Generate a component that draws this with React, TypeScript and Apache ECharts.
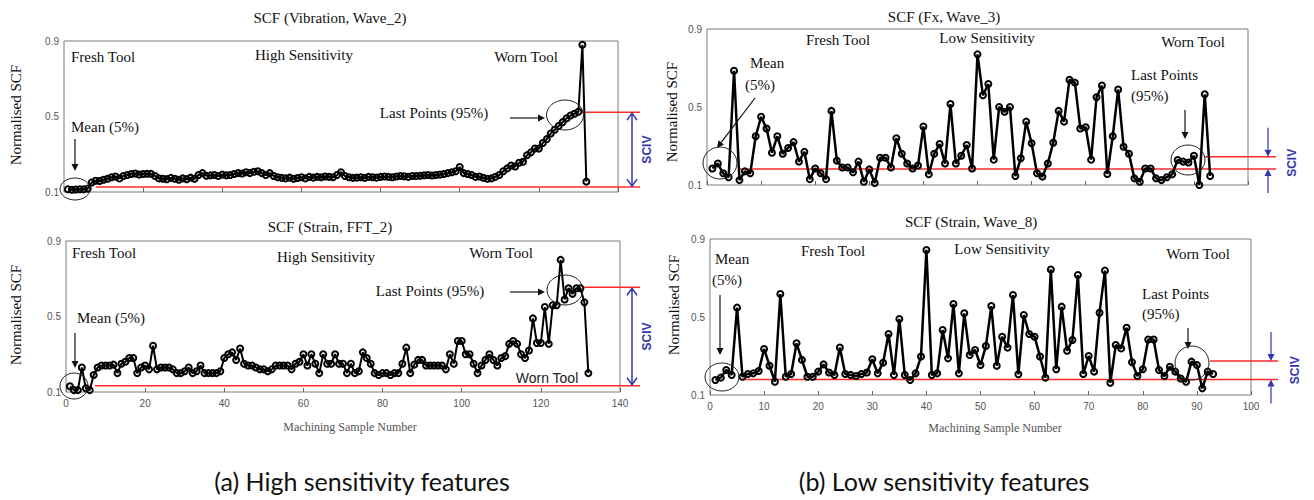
import React, { useEffect, useRef } from "react";
import * as echarts from "echarts";

// ---------- data ----------
const vibrationWave2 = [
  0.115, 0.112, 0.113, 0.115, 0.114, 0.118,
  0.15, 0.16, 0.158, 0.165, 0.17,
  0.178, 0.182, 0.172, 0.185, 0.19,
  0.195, 0.198, 0.192, 0.195, 0.197, 0.196,
  0.185, 0.172, 0.17, 0.168, 0.175, 0.17, 0.165, 0.172, 0.168, 0.176, 0.17,
  0.19, 0.2, 0.186, 0.188, 0.19, 0.185, 0.192, 0.188, 0.19, 0.195,
  0.2, 0.198, 0.205, 0.2, 0.207, 0.21, 0.2, 0.19, 0.2,
  0.185, 0.178, 0.175, 0.172, 0.176, 0.17, 0.174, 0.178, 0.172, 0.18,
  0.176, 0.18, 0.178, 0.182, 0.18, 0.178, 0.19, 0.205,
  0.185, 0.178, 0.175, 0.176, 0.178, 0.175, 0.18, 0.178, 0.176, 0.18,
  0.182, 0.18, 0.178, 0.182, 0.185, 0.183, 0.18, 0.185, 0.184, 0.186,
  0.188, 0.19, 0.187, 0.19, 0.192, 0.195, 0.2, 0.205, 0.21, 0.232,
  0.2, 0.195, 0.19, 0.18, 0.182, 0.175, 0.17, 0.172, 0.18, 0.19,
  0.21, 0.225, 0.24, 0.235, 0.255, 0.26, 0.295, 0.31, 0.33, 0.33,
  0.36, 0.38, 0.41, 0.43, 0.45, 0.47, 0.49, 0.505, 0.515, 0.525,
  0.88, 0.155,
];

const strainFFT2 = [
  0.13, 0.11, 0.11, 0.23, 0.12, 0.11, 0.19, 0.23, 0.24, 0.24,
  0.24, 0.245, 0.2, 0.25, 0.26, 0.28, 0.28, 0.2, 0.23, 0.24,
  0.22, 0.345, 0.22, 0.23, 0.23, 0.23, 0.22, 0.2, 0.2, 0.21,
  0.23, 0.2, 0.21, 0.24, 0.2, 0.2, 0.2, 0.2, 0.21, 0.28,
  0.3, 0.31, 0.27, 0.33, 0.25, 0.24, 0.24, 0.23, 0.22, 0.22,
  0.21, 0.22, 0.24, 0.24, 0.24, 0.24, 0.22, 0.25, 0.26, 0.3,
  0.24, 0.3, 0.25, 0.2, 0.3, 0.25, 0.25, 0.3, 0.25, 0.25,
  0.2, 0.25, 0.2, 0.21, 0.31, 0.28, 0.25, 0.2, 0.19, 0.2,
  0.2, 0.19, 0.2, 0.2, 0.25, 0.335, 0.2, 0.245, 0.27, 0.27,
  0.24, 0.24, 0.24, 0.24, 0.24, 0.22, 0.3, 0.25, 0.37, 0.37,
  0.3, 0.3, 0.25, 0.2, 0.24, 0.27, 0.3, 0.27, 0.24, 0.28,
  0.29, 0.355, 0.37, 0.355, 0.3, 0.28, 0.32, 0.49, 0.36, 0.36,
  0.55, 0.355, 0.56, 0.56, 0.8, 0.59, 0.65, 0.62, 0.65, 0.65,
  0.575, 0.2,
];

const fxWave3 = [
  0.185, 0.21, 0.16, 0.14, 0.686, 0.125, 0.17, 0.16, 0.35, 0.45,
  0.39, 0.265, 0.35, 0.26, 0.29, 0.32, 0.22, 0.27, 0.13, 0.185,
  0.16, 0.13, 0.48, 0.225, 0.19, 0.19, 0.165, 0.22, 0.117, 0.18,
  0.11, 0.24, 0.24, 0.19, 0.34, 0.26, 0.21, 0.185, 0.2, 0.4,
  0.155, 0.26, 0.31, 0.21, 0.515, 0.21, 0.25, 0.305, 0.185, 0.77,
  0.56, 0.618, 0.23, 0.5, 0.476, 0.5, 0.146, 0.237, 0.425, 0.314,
  0.16, 0.143, 0.21, 0.317, 0.48, 0.425, 0.64, 0.625, 0.39, 0.396,
  0.23, 0.55, 0.61, 0.156, 0.35, 0.59, 0.296, 0.26, 0.134, 0.117,
  0.185, 0.185, 0.134, 0.125, 0.14, 0.155, 0.228, 0.22, 0.215, 0.25,
  0.1, 0.565, 0.146,
];

const strainWave8 = [
  0.177, 0.189, 0.228, 0.203, 0.548, 0.194, 0.208, 0.211, 0.223, 0.336,
  0.25, 0.168, 0.618, 0.194, 0.208, 0.365, 0.28, 0.194, 0.194, 0.22,
  0.257, 0.215, 0.203, 0.344, 0.208, 0.203, 0.197, 0.208, 0.215, 0.283,
  0.211, 0.266, 0.413, 0.203, 0.49, 0.203, 0.177, 0.211, 0.297, 0.844,
  0.203, 0.211, 0.433, 0.288, 0.567, 0.211, 0.519, 0.305, 0.331, 0.254,
  0.351, 0.556, 0.25, 0.399, 0.343, 0.613, 0.206, 0.51, 0.413, 0.399,
  0.297, 0.189, 0.744, 0.232, 0.553, 0.327, 0.382, 0.715, 0.208, 0.3,
  0.22, 0.522, 0.738, 0.163, 0.356, 0.339, 0.445, 0.268, 0.197, 0.232,
  0.385, 0.385, 0.228, 0.197, 0.245, 0.22, 0.185, 0.168, 0.271, 0.254,
  0.134, 0.22, 0.208,
];

const yTickValues = [0.1, 0.5, 0.9];
const highXMax = 140;
const highXStep = 20;
const lowXMax = 100;
const lowXStep = 10;

// mean of first 5% (lower red line) and of last points (upper red line)
const meanLevels = [0.126, 0.133, 0.182, 0.18];
const lastLevels = [0.523, 0.655, 0.245, 0.274];
const meanStartSample = [8, 7.3, 5.7, 6];
const lastStartSample = [130.7, 130.7, 92, 92.4];

const panelTitles = [
  "SCF (Vibration, Wave_2)",
  "SCF (Strain, FFT_2)",
  "SCF (Fx, Wave_3)",
  "SCF (Strain, Wave_8)",
];

// ---------- layout ----------
const panels = [
  { grid: { left: 64, top: 41, width: 554, height: 151 }, values: vibrationWave2, xMax: highXMax, xStep: highXStep, showX: false, lineEnd: 640, high: true },
  { grid: { left: 66, top: 241, width: 554, height: 151 }, values: strainFFT2, xMax: highXMax, xStep: highXStep, showX: true, lineEnd: 640, high: true },
  { grid: { left: 707, top: 29, width: 541, height: 156 }, values: fxWave3, xMax: lowXMax, xStep: lowXStep, showX: false, lineEnd: 1276, high: false },
  { grid: { left: 710, top: 239, width: 541, height: 156 }, values: strainWave8, xMax: lowXMax, xStep: lowXStep, showX: true, lineEnd: 1278, high: false },
];

const SERIF = '"Liberation Serif", "Times New Roman", serif';
const SANS = '"Liberation Sans", Arial, sans-serif';
const BLUE = "#3535b0";
const RED = "#ff2a2a";

function txt(text: string, x: number, y: number, size: number, opts: any = {}) {
  return {
    type: "text",
    x,
    y,
    rotation: opts.rotation || 0,
    z: 10,
    style: {
      text,
      font: `${opts.weight || "normal"} ${size}px ${opts.family || SERIF}`,
      fill: opts.color || "#111",
      textAlign: opts.align || "center",
      textVerticalAlign: "middle",
    },
  };
}

function arrow(x1: number, y1: number, x2: number, y2: number, color: string, lw: number, hl: number, hw: number) {
  const a = Math.atan2(y2 - y1, x2 - x1);
  const c = Math.cos(a);
  const s = Math.sin(a);
  const bx = x2 - hl * c;
  const by = y2 - hl * s;
  return [
    { type: "line", z: 10, shape: { x1, y1, x2: bx, y2: by }, style: { stroke: color, lineWidth: lw } },
    {
      type: "polygon",
      z: 10,
      shape: { points: [[x2, y2], [bx + hw * s, by - hw * c], [bx - hw * s, by + hw * c]] },
      style: { fill: color },
    },
  ];
}

function ellipse(cx: number, cy: number, rx: number, ry: number) {
  return { type: "ellipse", z: 10, shape: { cx, cy, rx, ry }, style: { fill: "none", stroke: "#222", lineWidth: 1 } };
}

function hline(x1: number, x2: number, y: number) {
  return { type: "line", z: 1, shape: { x1, y1: y, x2, y2: y }, style: { stroke: RED, lineWidth: 1.5 } };
}

export default function App() {
  const ref = useRef<HTMLDivElement>(null);

  useEffect(() => {
    document.body.style.margin = "0";
    const chart = echarts.init(ref.current!, null, { renderer: "svg" });

    const option: any = {
      animation: false,
      backgroundColor: "#ffffff",
      grid: panels.map((p) => ({
        ...p.grid,
        show: true,
        borderColor: "#7a7a7a",
        borderWidth: 1,
        backgroundColor: "transparent",
      })),
      xAxis: panels.map((p, i) => ({
        gridIndex: i,
        type: "value",
        min: 0,
        max: p.xMax,
        interval: p.xStep,
        axisLine: { show: false },
        axisTick: { show: true, inside: true, length: 4, lineStyle: { color: "#666" } },
        splitLine: { show: false },
        axisLabel: { show: p.showX, margin: 6, color: "#555", fontSize: 10, fontFamily: SANS },
      })),
      yAxis: panels.map((p, i) => ({
        gridIndex: i,
        type: "value",
        min: 0.1,
        max: 0.9,
        axisLine: { show: false },
        axisTick: { show: false },
        splitLine: { show: false },
        axisLabel: {
          customValues: yTickValues,
          formatter: (v: number) => v.toFixed(1),
          margin: 5,
          color: "#555",
          fontSize: 10,
          fontFamily: SANS,
        },
      })),
      series: panels.map((p, i) => ({
        type: "line",
        xAxisIndex: i,
        yAxisIndex: i,
        data: p.values.map((v, k) => [k + 1, v]),
        symbol: "circle",
        symbolSize: 6,
        showAllSymbol: true,
        itemStyle: { color: "rgba(255,255,255,0)", borderColor: "#000", borderWidth: 2 },
        lineStyle: { color: "#000", width: p.high ? 2 : 2.5 },
        z: 5,
      })),
    };
    chart.setOption(option);

    const px = (i: number, x: number, y: number) =>
      chart.convertToPixel({ xAxisIndex: i, yAxisIndex: i } as any, [x, y]) as number[];

    const g: any[] = [];

    // red reference lines + SCIV
    panels.forEach((p, i) => {
      const m = px(i, meanStartSample[i], meanLevels[i]);
      const l = px(i, lastStartSample[i], lastLevels[i]);
      g.push(hline(m[0], p.lineEnd, m[1]));
      g.push(hline(l[0], p.lineEnd, l[1]));
      if (p.high) {
        const ax = 632;
        g.push({ type: "line", z: 10, shape: { x1: ax, y1: l[1] + 1, x2: ax, y2: m[1] - 1 }, style: { stroke: BLUE, lineWidth: 1.5 } });
        g.push({ type: "polyline", z: 10, shape: { points: [[ax - 5, l[1] + 8], [ax, l[1] + 1], [ax + 5, l[1] + 8]] }, style: { stroke: BLUE, lineWidth: 1.5, fill: "none" } });
        g.push({ type: "polyline", z: 10, shape: { points: [[ax - 5, m[1] - 8], [ax, m[1] - 1], [ax + 5, m[1] - 8]] }, style: { stroke: BLUE, lineWidth: 1.5, fill: "none" } });
        g.push(txt("SCIV", 647, (l[1] + m[1]) / 2, 12, { rotation: Math.PI / 2, color: BLUE, weight: "bold", family: SANS }));
      } else {
        const ax = i === 2 ? 1268 : 1271;
        g.push(...arrow(ax, l[1] - 29, ax, l[1], BLUE, 1.2, 7, 3.5));
        g.push(...arrow(ax, m[1] + 24, ax, m[1], BLUE, 1.2, 7, 3.5));
        g.push(txt("SCIV", ax + 24, (l[1] + m[1]) / 2, 12, { rotation: Math.PI / 2, color: BLUE, weight: "bold", family: SANS }));
      }
    });

    // titles
    g.push(txt(panelTitles[0], 330, 18, 15));
    g.push(txt(panelTitles[1], 330, 227, 15));
    g.push(txt(panelTitles[2], 944, 17, 15));
    g.push(txt(panelTitles[3], 971, 222, 15));

    // axis names
    g.push(txt("Normalised SCF", 16, 115, 15, { rotation: Math.PI / 2 }));
    g.push(txt("Normalised SCF", 16, 315, 15, { rotation: Math.PI / 2 }));
    g.push(txt("Normalised SCF", 672, 112, 15, { rotation: Math.PI / 2 }));
    g.push(txt("Normalised SCF", 674, 305, 15, { rotation: Math.PI / 2 }));
    g.push(txt("Machining Sample Number", 350, 427, 12, { color: "#555" }));
    g.push(txt("Machining Sample Number", 995, 428, 12, { color: "#555" }));

    // top-left annotations
    g.push(txt("Fresh Tool", 71, 57, 15, { align: "left" }));
    g.push(txt("High Sensitivity", 304, 55, 15));
    g.push(txt("Worn Tool", 526, 57, 15));
    g.push(txt("Last Points (95%)", 434, 113, 15));
    g.push(...arrow(510, 118, 545, 118, "#111", 1.2, 7, 3.5));
    g.push(ellipse(565, 115, 18.5, 15));
    g.push(txt("Mean (5%)", 71, 127, 15, { align: "left" }));
    g.push(...arrow(75, 139, 75, 171, "#111", 1.2, 7, 3.5));
    g.push(ellipse(75, 189, 15, 11));

    // bottom-left annotations
    g.push(txt("Fresh Tool", 72, 253, 15, { align: "left" }));
    g.push(txt("High Sensitivity", 326, 257, 15));
    g.push(txt("Worn Tool", 501, 253, 15));
    g.push(txt("Last Points (95%)", 430, 291, 15));
    g.push(...arrow(510, 292, 545, 292, "#111", 1.2, 7, 3.5));
    g.push(ellipse(565, 290, 18, 15));
    g.push(txt("Mean (5%)", 77, 318, 15, { align: "left" }));
    g.push(...arrow(75, 333, 75, 368, "#111", 1.2, 7, 3.5));
    g.push(ellipse(74, 386, 14, 13));
    g.push(txt("Worn Tool", 547, 378, 14, { family: SANS, color: "#222" }));

    // top-right annotations
    g.push(txt("Fresh Tool", 838, 40, 15));
    g.push(txt("Low Sensitivity", 987, 38, 15));
    g.push(txt("Worn Tool", 1193, 42, 15));
    g.push(txt("Last Points", 1131, 75, 15, { align: "left" }));
    g.push(txt("(95%)", 1131, 96, 15, { align: "left" }));
    g.push(...arrow(1185, 110, 1185, 139, "#111", 1.2, 7, 3.5));
    g.push(ellipse(1188, 160, 17, 15));
    g.push(txt("Mean", 750, 63, 15, { align: "left" }));
    g.push(txt("(5%)", 745, 85, 15, { align: "left" }));
    g.push(...arrow(755, 98, 717, 148, "#111", 1.2, 7, 3.5));
    g.push(ellipse(720, 163, 17, 16));

    // bottom-right annotations
    g.push(txt("Fresh Tool", 833, 251, 15));
    g.push(txt("Low Sensitivity", 1002, 249, 15));
    g.push(txt("Worn Tool", 1198, 254, 15));
    g.push(txt("Last Points", 1142, 294, 15, { align: "left" }));
    g.push(txt("(95%)", 1142, 314, 15, { align: "left" }));
    g.push(...arrow(1188, 328, 1188, 349, "#111", 1.2, 7, 3.5));
    g.push(ellipse(1192, 363, 17, 17));
    g.push(txt("Mean", 715, 259, 15, { align: "left" }));
    g.push(txt("(5%)", 712, 280, 15, { align: "left" }));
    g.push(...arrow(720, 295, 720, 355, "#111", 1.2, 7, 3.5));
    g.push(ellipse(722, 377, 17, 14));

    // captions
    g.push(txt("(a) High sensitivity features", 362, 481, 25, { family: 'Lato, "Open Sans", sans-serif' }));
    g.push(txt("(b) Low sensitivity features", 944, 481, 25, { family: 'Lato, "Open Sans", sans-serif' }));

    chart.setOption({ graphic: { elements: g } });

    return () => chart.dispose();
  }, []);

  return (
    <div
      ref={ref}
      style={{ width: 1314, height: 500, position: "absolute", left: 0, top: 0, background: "#fff" }}
    />
  );
}
